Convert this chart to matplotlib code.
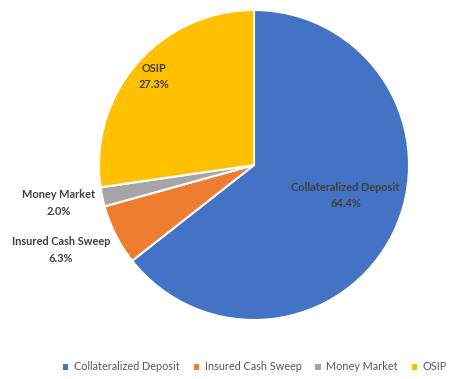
import matplotlib.pyplot as plt
from matplotlib.patches import Patch

plt.rcParams["font.family"] = ["Lato", "DejaVu Sans"]

categories = ["Collateralized Deposit", "Insured Cash Sweep", "Money Market", "OSIP"]
shares = [64.4, 6.3, 2.0, 27.3]
colors = ["#4472C4", "#ED7D31", "#A5A5A5", "#FFC000"]
# label anchor spots in pie units (radius = 1)
label_xy = [(0.590, -0.197), (-1.245, -0.548), (-1.258, -0.245), (-0.648, 0.571)]

fig = plt.figure(figsize=(4.49, 3.79), dpi=100)
ax = fig.add_axes([99 / 449, 59 / 379, 310 / 449, 310 / 379])

ax.pie(
    shares,
    colors=colors,
    startangle=90,
    counterclock=False,
    radius=1,
    wedgeprops=dict(edgecolor="white", linewidth=1.5),
)
ax.set_xlim(-1, 1)
ax.set_ylim(-1, 1)
ax.set_aspect("equal")
ax.axis("off")

for name, val, (x, y) in zip(categories, shares, label_xy):
    ax.text(x, y, f"{name}\n{val:.1f}%", ha="center", va="center",
            fontsize=7.9, fontweight="bold", color="#404040",
            linespacing=1.6, clip_on=False)

handles = [Patch(facecolor=c, edgecolor="none") for c in colors]
fig.legend(handles, categories, loc="center", bbox_to_anchor=(255 / 449, 1 - 367 / 379),
           ncol=4, frameon=False, fontsize=7.8, handlelength=0.5, handleheight=0.5,
           handletextpad=0.5, columnspacing=1.3, labelcolor="#595959",
           borderpad=0, borderaxespad=0)

fig.savefig("out.png", dpi=100)
